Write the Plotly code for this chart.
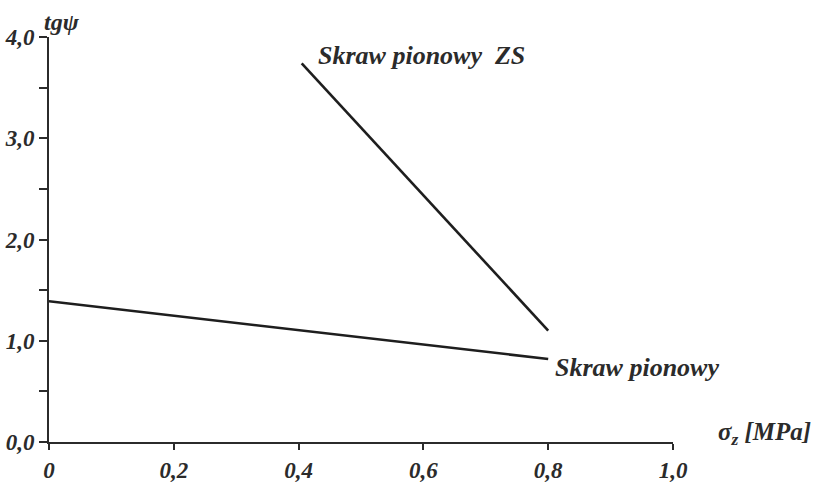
import plotly.graph_objects as go

# Vertical cut series: normal stress sigma_z [MPa] vs tg(psi)
sigma_plain = [0.0, 0.80]
tg_plain = [1.39, 0.82]

sigma_zs = [0.405, 0.80]
tg_zs = [3.74, 1.10]

x_ticks = [0.0, 0.2, 0.4, 0.6, 0.8, 1.0]
x_labels = ["0", "0,2", "0,4", "0,6", "0,8", "1,0"]
y_ticks = [0.0, 1.0, 2.0, 3.0, 4.0]
y_labels = ["0,0", "1,0", "2,0", "3,0", "4,0"]
y_minor = [0.5, 1.5, 2.5, 3.5]

INK = "#2b2b2b"
FAMILY = "Liberation Serif, Times New Roman, serif"

# plot-area geometry in pixels
L, R, T, B = 49, 145, 37, 40
W, H = 818, 482
PW, PH = W - L - R, H - T - B


def bi(size):
    return dict(family=FAMILY, size=size, color=INK, weight="bold", style="italic")


def px_to_paper(px, py):
    return (px - L) / PW, (H - B - py) / PH


fig = go.Figure()
for xs, ys in [(sigma_plain, tg_plain), (sigma_zs, tg_zs)]:
    fig.add_trace(go.Scatter(x=xs, y=ys, mode="lines",
                             line=dict(color="#1e1e1e", width=2.6),
                             showlegend=False, hoverinfo="skip"))

fig.add_annotation(x=0.428, y=3.82, text="Skraw pionowy  ZS", showarrow=False,
                   xanchor="left", yanchor="middle", font=bi(26))
fig.add_annotation(x=0.808, y=0.74, text="Skraw pionowy", showarrow=False,
                   xanchor="left", yanchor="middle", font=bi(26))

ax, ay = px_to_paper(62, 22)
fig.add_annotation(x=ax, y=ay, xref="paper", yref="paper", text="tgψ",
                   xanchor="center", yanchor="middle",
                   showarrow=False, font=bi(24))
sx, sy = px_to_paper(764, 433)
fig.add_annotation(x=sx, y=sy, xref="paper", yref="paper",
                   text="σ<sub>z</sub> [MPa]", xanchor="center", yanchor="middle",
                   showarrow=False, font=bi(25))

fig.update_layout(
    width=W, height=H,
    margin=dict(l=L, r=R, t=T, b=B),
    paper_bgcolor="white", plot_bgcolor="white",
    xaxis=dict(range=[0, 1], tickvals=x_ticks, ticktext=x_labels,
               automargin=False,
               showline=True, linecolor=INK, linewidth=2,
               ticks="outside", ticklen=6, tickwidth=2, tickcolor=INK,
               showgrid=False, zeroline=False, tickfont=bi(23)),
    yaxis=dict(range=[0, 4], tickvals=y_ticks, ticktext=y_labels,
               automargin=False,
               showline=True, linecolor=INK, linewidth=2,
               ticks="outside", ticklen=8, tickwidth=2, tickcolor=INK,
               minor=dict(tickvals=y_minor, ticks="outside", ticklen=8,
                          tickwidth=2, tickcolor=INK),
               showgrid=False, zeroline=False, tickfont=bi(23)),
)

fig.write_html("out.html")
